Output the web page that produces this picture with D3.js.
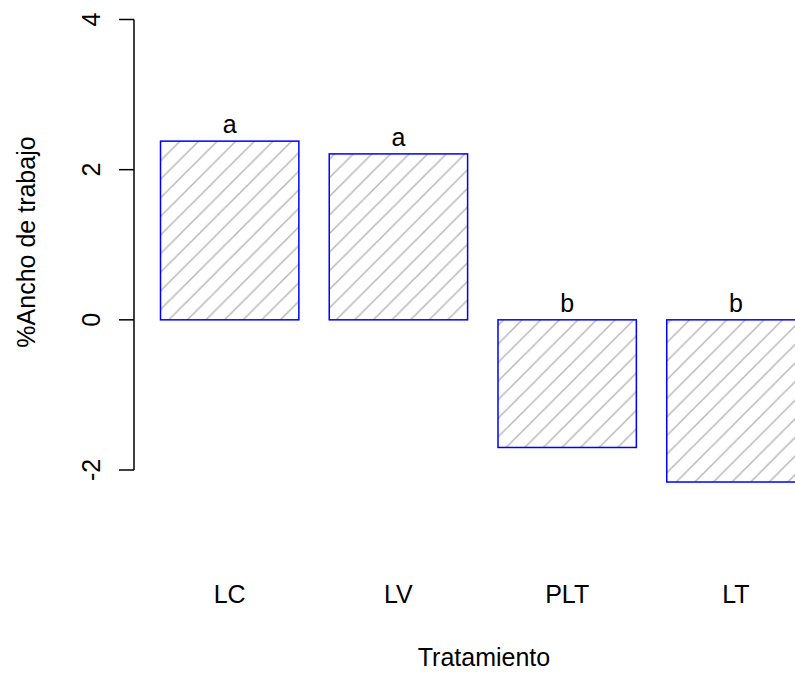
<!DOCTYPE html>
<html>
<head>
<meta charset="utf-8">
<script src="https://cdn.jsdelivr.net/npm/d3@7"></script>
<style>
  body { margin: 0; background: #fff; }
  svg { display: block; font-family: "Liberation Sans", Arial, sans-serif; }
</style>
</head>
<body>
<div id="grafica"></div>
<script>
// datos
var tratamientos = ["LC", "LV", "PLT", "LT"];
var valores = [2.38, 2.21, -1.70, -2.16];
var letras = ["a", "a", "b", "b"];
var yTicks = [-2, 0, 2, 4];

var w = 795,
    h = 673,
    fs = "25px";

var svg = d3.select("#grafica")
    .append("svg")
    .attr("width", w)
    .attr("height", h);

// patron de rayado
var hatch = 18.6;
svg.append("defs").append("pattern")
    .attr("id", "rayas")
    .attr("patternUnits", "userSpaceOnUse")
    .attr("x", 5)
    .attr("y", 0)
    .attr("width", hatch)
    .attr("height", hatch)
    .append("path")
    .attr("d", "M-2,2 L2,-2 M0," + hatch + " L" + hatch + ",0 M" + (hatch - 2) + "," + (hatch + 2) + " L" + (hatch + 2) + "," + (hatch - 2))
    .attr("stroke", "#b8b8b8")
    .attr("stroke-width", 1.5);

// escalas
var x = d3.scaleBand()
    .domain(tratamientos)
    .range([160.5, 805.1])
    .paddingInner(0.18)
    .paddingOuter(0)
    .align(0);

var y = d3.scaleLinear()
    .domain([-2, 4])
    .range([470, 19.5]);

// barras
svg.selectAll("rect.barra")
    .data(valores)
    .enter()
    .append("rect")
    .attr("class", "barra")
    .attr("x", function(d, i) { return x(tratamientos[i]); })
    .attr("y", function(d) { return y(Math.max(d, 0)); })
    .attr("width", x.bandwidth())
    .attr("height", function(d) { return Math.abs(y(d) - y(0)); })
    .attr("fill", "url(#rayas)")
    .attr("stroke", "#0000ff")
    .attr("stroke-width", 1.5);

// letras de significancia
svg.selectAll("text.letra")
    .data(valores)
    .enter()
    .append("text")
    .attr("class", "letra")
    .attr("x", function(d, i) { return x(tratamientos[i]) + x.bandwidth() / 2; })
    .attr("y", function(d) { return y(Math.max(d, 0)) - 8; })
    .attr("text-anchor", "middle")
    .style("font-size", fs)
    .text(function(d, i) { return letras[i]; });

// eje Y
var axisX = 134;
svg.append("line")
    .attr("x1", axisX).attr("x2", axisX)
    .attr("y1", y(yTicks[0])).attr("y2", y(yTicks[yTicks.length - 1]))
    .attr("stroke", "#000")
    .attr("stroke-width", 1.5);

svg.selectAll("line.tick")
    .data(yTicks)
    .enter()
    .append("line")
    .attr("class", "tick")
    .attr("x1", axisX - 15).attr("x2", axisX)
    .attr("y1", function(d) { return y(d); })
    .attr("y2", function(d) { return y(d); })
    .attr("stroke", "#000")
    .attr("stroke-width", 1.5);

svg.selectAll("text.ytick")
    .data(yTicks)
    .enter()
    .append("text")
    .attr("class", "ytick")
    .attr("transform", function(d) { return "translate(100," + y(d) + ") rotate(-90)"; })
    .attr("text-anchor", "middle")
    .style("font-size", fs)
    .text(function(d) { return d; });

// etiquetas eje X
svg.selectAll("text.cat")
    .data(tratamientos)
    .enter()
    .append("text")
    .attr("class", "cat")
    .attr("x", function(d) { return x(d) + x.bandwidth() / 2; })
    .attr("y", 603)
    .attr("text-anchor", "middle")
    .style("font-size", fs)
    .text(function(d) { return d; });

// titulos
svg.append("text")
    .attr("x", 484)
    .attr("y", 666)
    .attr("text-anchor", "middle")
    .style("font-size", fs)
    .text("Tratamiento");

svg.append("text")
    .attr("transform", "translate(35,242) rotate(-90)")
    .attr("text-anchor", "middle")
    .style("font-size", fs)
    .text("%Ancho de trabajo");
</script>
</body>
</html>
